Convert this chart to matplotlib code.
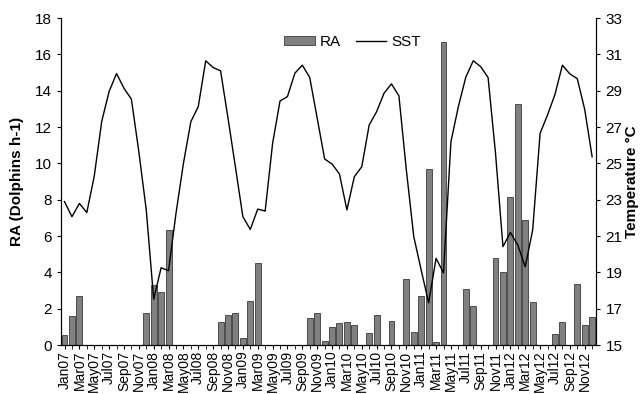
import numpy as np
import matplotlib
matplotlib.use("Agg")
import matplotlib.pyplot as plt
from matplotlib.patches import Patch
from matplotlib.lines import Line2D

plt.rcParams['font.family'] = ['Liberation Sans', 'DejaVu Sans']

months = ["Jan", "Feb", "Mar", "Apr", "May", "Jun", "Jul", "Aug", "Sep", "Oct", "Nov", "Dec"]
years = ["07", "08", "09", "10", "11", "12"]
labels = [m + y for y in years for m in months]

# relative abundance (dolphins per hour), monthly Jan07..Dec12
ra = [0.55, 1.6, 2.7, 0, 0, 0, 0, 0, 0, 0, 0, 1.75,
      3.3, 2.9, 6.35, 0, 0, 0, 0, 0, 0, 1.27, 1.67, 1.75,
      0.4, 2.42, 4.5, 0, 0, 0, 0, 0, 0, 1.5, 1.75, 0.25,
      1.0, 1.2, 1.27, 1.1, 0, 0.65, 1.65, 0, 1.32, 0, 3.62, 0.72,
      2.68, 9.68, 0.17, 16.7, 0, 0, 3.07, 2.15, 0, 0, 4.81, 4.0,
      8.17, 13.28, 6.87, 2.35, 0, 0, 0.64, 1.27, 0, 3.38, 1.1, 1.56]

# sea surface temperature (°C)
sst = [22.9, 22.07, 22.8, 22.3, 24.3, 27.3, 28.96, 29.95, 29.14, 28.54, 25.65, 22.44,
       17.53, 19.26, 19.1, 22.25, 25.0, 27.3, 28.13, 30.65, 30.28, 30.1, 27.5, 24.8,
       22.07, 21.37, 22.49, 22.38, 26.1, 28.44, 28.68, 29.97, 30.41, 29.73, 27.5, 25.25,
       24.97, 24.42, 22.44, 24.27, 24.82, 27.12, 27.85, 28.87, 29.38, 28.72, 24.64, 20.97,
       19.13, 17.33, 19.78, 18.98, 26.2, 28.13, 29.75, 30.65, 30.33, 29.73, 25.56, 20.42,
       21.2, 20.51, 19.31, 21.34, 26.66, 27.67, 28.8, 30.41, 29.93, 29.67, 27.98, 25.37]

x = np.arange(len(labels))

fig, ax = plt.subplots(figsize=(6.4, 3.94), dpi=100)
fig.subplots_adjust(left=0.095, right=0.931, bottom=0.124, top=0.954)

ax.bar(x, ra, width=0.8, color="#808080", edgecolor="#3a3a3a", linewidth=0.6)
ax.set_xlim(-0.5, len(labels) - 0.5)
ax.set_ylim(0, 18)
ax.set_yticks(np.arange(0, 19, 2))
ax.set_xticks(x[::2])
ax.set_xticklabels(labels[::2], rotation=90, fontsize=10)
ax.set_xticks(x, minor=True)
ax.tick_params(axis="x", which="both", length=3, direction="out", pad=1)
ax.tick_params(axis="y", labelsize=11, length=3)
ax.set_ylabel("RA (Dolphins h-1)", fontsize=11, fontweight="bold", labelpad=8)
ax.spines["top"].set_visible(False)

ax2 = ax.twinx()
ax2.plot(x, sst, color="black", linewidth=1)
ax2.set_ylim(15, 33)
ax2.set_yticks(np.arange(15, 34, 2))
ax2.tick_params(axis="y", labelsize=11, length=3, pad=4)
ax2.set_ylabel("Temperature °C", fontsize=11, fontweight="bold", labelpad=2)
ax2.spines["top"].set_visible(False)

handles = [Patch(facecolor="#808080", edgecolor="#3a3a3a", linewidth=0.6),
           Line2D([0], [0], color="black", linewidth=1)]
ax2.legend(handles, ["RA", "SST"], loc="upper center", ncol=2, frameon=False,
           fontsize=11, bbox_to_anchor=(0.545, 0.99), handlelength=2.0,
           handleheight=0.55, columnspacing=1.0, handletextpad=0.3)

plt.savefig("out.png", dpi=100)
